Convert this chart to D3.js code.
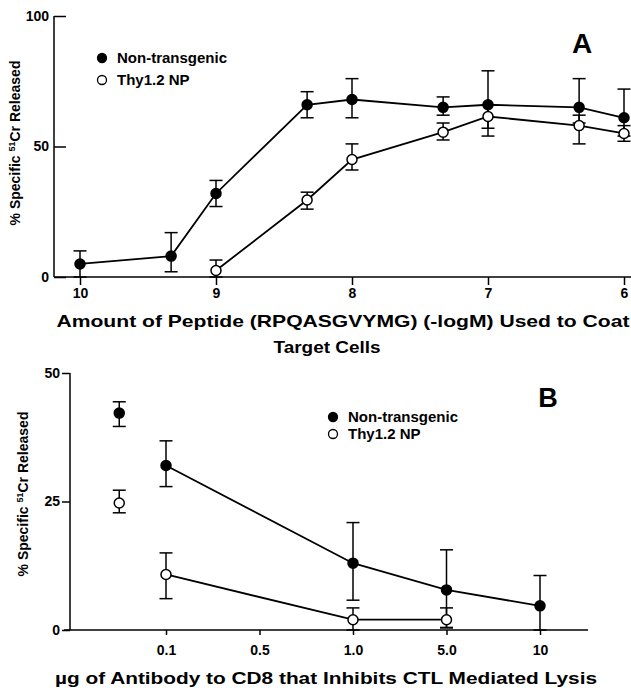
<!DOCTYPE html>
<html>
<head>
<meta charset="utf-8">
<script src="https://cdn.jsdelivr.net/npm/d3@7"></script>
<style>
  body { margin: 0; background: #fff; }
  svg { display: block; font-family: "Liberation Sans", Arial, sans-serif; font-weight: bold; }
</style>
</head>
<body>
<section></section>
<script>
// ---- Panel A data: peptide dose (-logM) ----
const doseA = [10, 9.33, 9, 8.33, 8, 7.33, 7, 6.33, 6];
const ntA = [5, 8, 32, 66, 68, 65, 66, 65, 61];
const ntAHi = [10, 17, 37, 71, 76, 69, 79, 76, 72];
const ntALo = [0, 2, 27, 61, 61, 62, 57, 59, 54];

const doseA2 = [9, 8.33, 8, 7.33, 7, 6.33, 6];
const tgA = [2.5, 29.5, 45, 55.5, 61.5, 58, 55];
const tgAHi = [6.5, 32.5, 51, 59, 66, 62, 58];
const tgALo = [0, 26, 41, 52.5, 54, 51, 52];

const ticksAx = [10, 9, 8, 7, 6];
const ticksAy = [0, 50, 100];

// ---- Panel B data: antibody dose (µg) ----
const doseTicksB = ["0.1", "0.5", "1.0", "5.0", "10"];
const doseB = ["0", "0.1", "1.0", "5.0", "10"];
const ntB = [42.2, 32, 13, 7.8, 4.7];
const ntBHi = [44.4, 36.8, 20.9, 15.6, 10.6];
const ntBLo = [39.6, 27.9, 5.8, 0.5, 0];

const doseB2 = ["0", "0.1", "1.0", "5.0"];
const tgB = [24.7, 10.8, 2, 2];
const tgBHi = [27.2, 15, 4.3, 4.3];
const tgBLo = [22.8, 6.1, 0, 0.4];

const ticksBy = [0, 25, 50];

const seriesNames = ["Non-transgenic", "Thy1.2 NP"];

const width = 631;
const height = 692;

const svg = d3.select("section")
    .append("svg")
    .attr("width", width)
    .attr("height", height)
    .attr("viewBox", [0, 0, width, height]);

function zip(xs, ys, hi, lo) {
    return xs.map((x, i) => ({ x, y: ys[i], hi: hi[i], lo: lo[i] }));
}

// draws line segments (optional), error bars and markers
function drawSeries(g, pts, x, y, filled, connectFrom) {
    const linePts = pts.slice(connectFrom);
    g.append("path")
        .datum(linePts)
        .attr("fill", "none")
        .attr("stroke", "#000")
        .attr("stroke-width", 1.8)
        .attr("d", d3.line().x(d => x(d.x)).y(d => y(d.y)));

    const eb = g.append("g").attr("stroke", "#000").attr("stroke-width", 1.5);
    eb.selectAll("line.v").data(pts).join("line")
        .attr("x1", d => x(d.x)).attr("x2", d => x(d.x))
        .attr("y1", d => y(d.lo)).attr("y2", d => y(d.hi));
    eb.selectAll("line.t").data(pts).join("line")
        .attr("x1", d => x(d.x) - 6.5).attr("x2", d => x(d.x) + 6.5)
        .attr("y1", d => y(d.hi)).attr("y2", d => y(d.hi));
    eb.selectAll("line.b").data(pts).join("line")
        .attr("x1", d => x(d.x) - 6.5).attr("x2", d => x(d.x) + 6.5)
        .attr("y1", d => y(d.lo)).attr("y2", d => y(d.lo));

    g.append("g").selectAll("circle").data(pts).join("circle")
        .attr("cx", d => x(d.x))
        .attr("cy", d => y(d.y))
        .attr("r", 5)
        .attr("fill", filled ? "#000" : "#fff")
        .attr("stroke", "#000")
        .attr("stroke-width", 1.5);
}

function legend(g, x0, y0, step, size) {
    seriesNames.forEach((name, i) => {
        g.append("circle")
            .attr("cx", x0).attr("cy", y0 + i * step).attr("r", 4.5)
            .attr("fill", i === 0 ? "#000" : "#fff")
            .attr("stroke", "#000").attr("stroke-width", 1.3);
        g.append("text")
            .attr("x", x0 + 15).attr("y", y0 + i * step + 5)
            .attr("font-size", size)
            .text(name);
    });
}

function yLabel(g, cx, cy) {
    const t = g.append("text")
        .attr("transform", `translate(${cx},${cy}) rotate(-90)`)
        .attr("text-anchor", "middle")
        .attr("font-size", 14);
    t.append("tspan").text("% Specific ");
    t.append("tspan").attr("font-size", 9).attr("dy", -5).text("51");
    t.append("tspan").attr("dy", 5).text("Cr Released");
}

function styleAxis(sel) {
    sel.select(".domain").remove();
    sel.selectAll(".tick line").attr("stroke", "#000").attr("stroke-width", 1.5);
    sel.selectAll(".tick text")
        .attr("fill", "#000")
        .attr("font-family", "Liberation Sans, Arial, sans-serif")
        .attr("font-weight", "bold")
        .attr("font-size", 14);
}

// ================= Panel A =================
const gA = svg.append("g");
const axA = { left: 54, right: 631, top: 16, bottom: 277 };

const xA = d3.scaleLinear().domain([10, 6]).range([80, 624]);
const yA = d3.scaleLinear().domain([0, 100]).range([axA.bottom, axA.top]);

gA.append("line")
    .attr("x1", axA.left).attr("x2", axA.left)
    .attr("y1", axA.top).attr("y2", axA.bottom)
    .attr("stroke", "#000").attr("stroke-width", 1.5);
gA.append("line")
    .attr("x1", axA.left).attr("x2", axA.right)
    .attr("y1", axA.bottom).attr("y2", axA.bottom)
    .attr("stroke", "#000").attr("stroke-width", 1.5);

gA.append("g")
    .attr("transform", `translate(${axA.left},0)`)
    .call(d3.axisLeft(yA).tickValues(ticksAy).tickSizeInner(-12).tickSizeOuter(0).tickPadding(5))
    .call(styleAxis);

gA.append("g")
    .attr("transform", `translate(0,${axA.bottom})`)
    .call(d3.axisBottom(xA).tickValues(ticksAx).tickFormat(d3.format("d")).tickSize(8).tickPadding(3))
    .call(styleAxis);

drawSeries(gA, zip(doseA, ntA, ntAHi, ntALo), xA, yA, true, 0);
drawSeries(gA, zip(doseA2, tgA, tgAHi, tgALo), xA, yA, false, 0);

legend(gA, 102, 58, 22, 15);
gA.append("text").attr("x", 582).attr("y", 53)
    .attr("text-anchor", "middle").attr("font-size", 28).text("A");

yLabel(gA, 20, 143);

gA.append("text").attr("x", 343).attr("y", 327)
    .attr("text-anchor", "middle").attr("font-size", 17)
    .attr("textLength", 573).attr("lengthAdjust", "spacingAndGlyphs")
    .text("Amount of Peptide (RPQASGVYMG) (-logM) Used to Coat");
gA.append("text").attr("x", 327).attr("y", 353)
    .attr("text-anchor", "middle").attr("font-size", 17)
    .attr("textLength", 107).attr("lengthAdjust", "spacingAndGlyphs")
    .text("Target Cells");

// ================= Panel B =================
const gB = svg.append("g");
const axB = { left: 70, right: 588, top: 373, bottom: 630 };

const posB = d => d === "0" ? -0.5 : doseTicksB.indexOf(d);
const xIdx = d3.scaleLinear().domain([0, 4]).range([166, 540]);
const xB = d => xIdx(posB(d));
const yB = d3.scaleLinear().domain([0, 50]).range([axB.bottom, axB.top]);

gB.append("line")
    .attr("x1", axB.left).attr("x2", axB.left)
    .attr("y1", axB.top).attr("y2", axB.bottom)
    .attr("stroke", "#000").attr("stroke-width", 1.5);
gB.append("line")
    .attr("x1", axB.left - 6).attr("x2", axB.right)
    .attr("y1", axB.bottom).attr("y2", axB.bottom)
    .attr("stroke", "#000").attr("stroke-width", 1.5);

gB.append("g")
    .attr("transform", `translate(${axB.left},0)`)
    .call(d3.axisLeft(yB).tickValues(ticksBy).tickSizeInner(8).tickSizeOuter(0).tickPadding(2))
    .call(styleAxis);

const xBand = d3.scalePoint().domain(doseTicksB).range([166, 540]);
gB.append("g")
    .attr("transform", `translate(0,${axB.bottom})`)
    .call(d3.axisBottom(xBand).tickSize(5).tickPadding(10))
    .call(styleAxis);

drawSeries(gB, zip(doseB, ntB, ntBHi, ntBLo), xB, yB, true, 1);
drawSeries(gB, zip(doseB2, tgB, tgBHi, tgBLo), xB, yB, false, 1);

legend(gB, 333, 417, 17, 15);
gB.append("text").attr("x", 548).attr("y", 407)
    .attr("text-anchor", "middle").attr("font-size", 27).text("B");

yLabel(gB, 28, 494);

gB.append("text").attr("x", 326).attr("y", 684)
    .attr("text-anchor", "middle").attr("font-size", 17)
    .attr("textLength", 542).attr("lengthAdjust", "spacingAndGlyphs")
    .text("µg of Antibody to CD8 that Inhibits CTL Mediated Lysis");
</script>
</body>
</html>
